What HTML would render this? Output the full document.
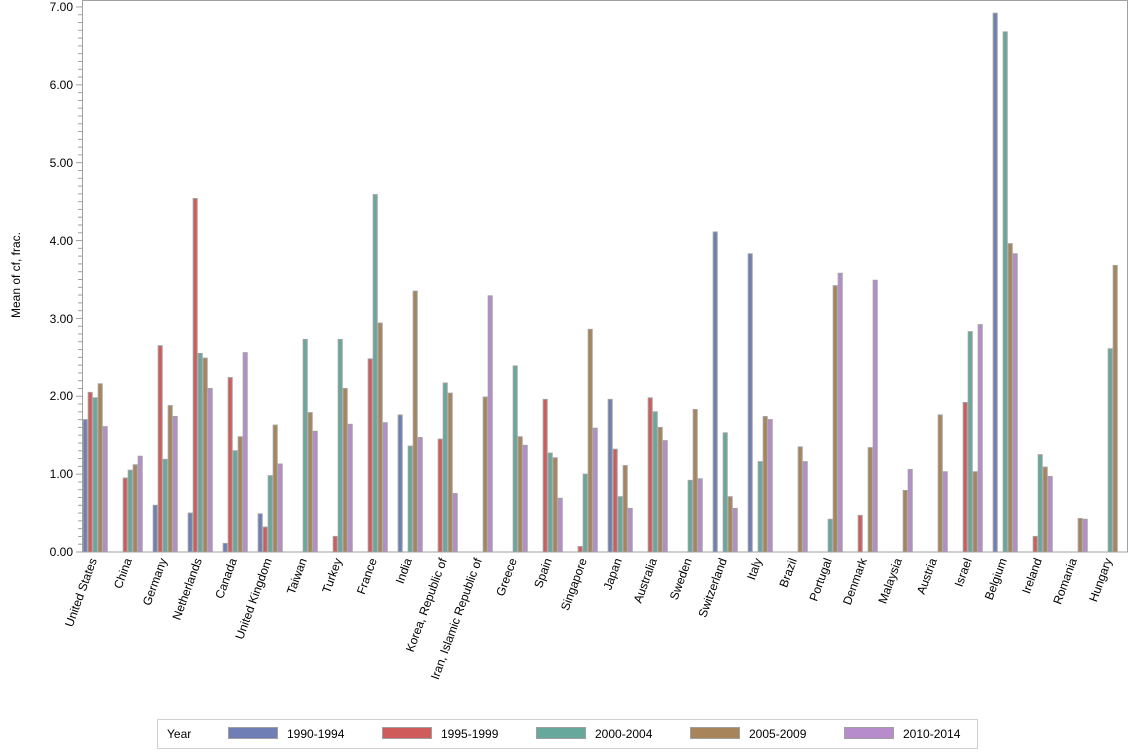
<!DOCTYPE html>
<html><head><meta charset="utf-8"><style>
html,body{margin:0;padding:0;background:#fff;}
svg{display:block;font-family:"Liberation Sans",Arial,sans-serif;}
</style></head><body>
<svg id="s" width="1134" height="756" xmlns="http://www.w3.org/2000/svg">
<rect x="82.5" y="0.5" width="1045" height="551.5" fill="#fff" stroke="#a0a0a0" stroke-width="1"/>
<g id="ticks"></g>
<g font-size="12" fill="#000" text-anchor="end">
<text x="73" y="11">7.00</text>
<text x="73" y="89">6.00</text>
<text x="73" y="167">5.00</text>
<text x="73" y="245">4.00</text>
<text x="73" y="323">3.00</text>
<text x="73" y="400">2.00</text>
<text x="73" y="478">1.00</text>
<text x="73" y="556">0.00</text>
</g>
<text transform="translate(20,275) rotate(-90)" font-size="12" text-anchor="middle">Mean of cf, frac.</text>
<g id="bars"></g>
<g font-size="12" text-anchor="end" id="labels">
<text transform="translate(97,560) rotate(-70)">United States</text>
<text transform="translate(132,560) rotate(-70)">China</text>
<text transform="translate(167,560) rotate(-70)">Germany</text>
<text transform="translate(202,560) rotate(-70)">Netherlands</text>
<text transform="translate(237,560) rotate(-70)">Canada</text>
<text transform="translate(272,560) rotate(-70)">United Kingdom</text>
<text transform="translate(307,560) rotate(-70)">Taiwan</text>
<text transform="translate(342,560) rotate(-70)">Turkey</text>
<text transform="translate(377,560) rotate(-70)">France</text>
<text transform="translate(412,560) rotate(-70)">India</text>
<text transform="translate(447,560) rotate(-70)">Korea, Republic of</text>
<text transform="translate(482,560) rotate(-70)">Iran, Islamic Republic of</text>
<text transform="translate(517,560) rotate(-70)">Greece</text>
<text transform="translate(552,560) rotate(-70)">Spain</text>
<text transform="translate(587,560) rotate(-70)">Singapore</text>
<text transform="translate(622,560) rotate(-70)">Japan</text>
<text transform="translate(657,560) rotate(-70)">Australia</text>
<text transform="translate(692,560) rotate(-70)">Sweden</text>
<text transform="translate(727,560) rotate(-70)">Switzerland</text>
<text transform="translate(762,560) rotate(-70)">Italy</text>
<text transform="translate(797,560) rotate(-70)">Brazil</text>
<text transform="translate(832,560) rotate(-70)">Portugal</text>
<text transform="translate(867,560) rotate(-70)">Denmark</text>
<text transform="translate(902,560) rotate(-70)">Malaysia</text>
<text transform="translate(937,560) rotate(-70)">Austria</text>
<text transform="translate(972,560) rotate(-70)">Israel</text>
<text transform="translate(1007,560) rotate(-70)">Belgium</text>
<text transform="translate(1042,560) rotate(-70)">Ireland</text>
<text transform="translate(1077,560) rotate(-70)">Romania</text>
<text transform="translate(1112,560) rotate(-70)">Hungary</text>
</g>
<rect x="157.5" y="719.5" width="820" height="29" fill="#fff" stroke="#d0d0d0"/>
<g font-size="12">
<text x="167" y="738">Year</text>
<rect x="228.5" y="727.5" width="49" height="11" fill="#6f7fb5" stroke="#a0a0a0"/><text x="287" y="738">1990-1994</text>
<rect x="382.5" y="727.5" width="49" height="11" fill="#d05b5b" stroke="#a0a0a0"/><text x="441" y="738">1995-1999</text>
<rect x="536.5" y="727.5" width="49" height="11" fill="#66a89c" stroke="#a0a0a0"/><text x="595" y="738">2000-2004</text>
<rect x="690.5" y="727.5" width="49" height="11" fill="#a8845a" stroke="#a0a0a0"/><text x="749" y="738">2005-2009</text>
<rect x="844.5" y="727.5" width="49" height="11" fill="#b68ccc" stroke="#a0a0a0"/><text x="903" y="738">2010-2014</text>
</g>
</svg>
<script>
var N="http://www.w3.org/2000/svg";
var d=[[1.70,2.05,1.98,2.16,1.61],[0,0.95,1.05,1.12,1.23],[0.60,2.65,1.19,1.88,1.74],[0.50,4.54,2.55,2.49,2.10],[0.11,2.24,1.30,1.48,2.56],[0.49,0.32,0.98,1.63,1.13],[0,0,2.73,1.79,1.55],[0,0.20,2.73,2.10,1.64],[0,2.48,4.59,2.94,1.66],[1.76,0,1.36,3.35,1.47],[0,1.45,2.17,2.04,0.75],[0,0,0,1.99,3.29],[0,0,2.39,1.48,1.37],[0,1.96,1.27,1.21,0.69],[0,0.07,1.00,2.86,1.59],[1.96,1.32,0.71,1.11,0.56],[0,1.98,1.80,1.60,1.43],[0,0,0.92,1.83,0.94],[4.11,0,1.53,0.71,0.56],[3.83,0,1.16,1.74,1.70],[0,0,0,1.35,1.16],[0,0,0.42,3.42,3.58],[0,0.47,0,1.34,3.49],[0,0,0,0.79,1.06],[0,0,0,1.76,1.03],[0,1.92,2.83,1.03,2.92],[6.92,0,6.68,3.96,3.83],[0,0.20,1.25,1.09,0.97],[0,0,0,0.43,0.42],[0,0,2.61,3.68,0]];
var c=["#6f7fb5","#d05b5b","#66a89c","#a8845a","#b68ccc"];
var g=document.getElementById("bars"),s=77.86,b=552;
for(var i=0;i<d.length;i++)for(var j=0;j<5;j++){var v=d[i][j];if(!v)continue;var r=document.createElementNS(N,"rect");var x=82.7+i*35+j*5;var h=v*s;r.setAttribute("x",x+0.5);r.setAttribute("y",b-h);r.setAttribute("width",4);r.setAttribute("height",h);r.setAttribute("fill",c[j]);r.setAttribute("stroke","#a0a0a0");r.setAttribute("stroke-width","1");g.appendChild(r);}
var t=document.getElementById("ticks");
for(var k=0;k<=70;k++){var y=b-k*s/10;var l=document.createElementNS(N,"line");l.setAttribute("x1",k%10==0?76:78);l.setAttribute("x2",82);l.setAttribute("y1",y);l.setAttribute("y2",y);l.setAttribute("stroke","#a0a0a0");t.appendChild(l);}
</script>
</body></html>
